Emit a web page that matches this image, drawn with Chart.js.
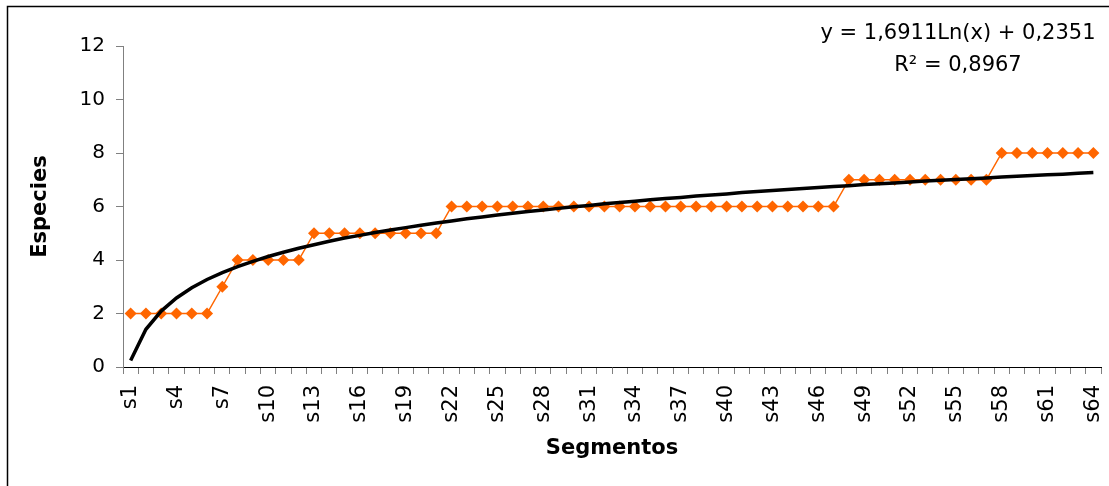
<!DOCTYPE html>
<html>
<head>
<meta charset="utf-8">
<script src="https://cdn.jsdelivr.net/npm/chart.js@4.4.0/dist/chart.umd.min.js"></script>
<style>
  html, body { margin: 0; padding: 0; background: #fff; overflow: hidden; }
  canvas { display: block; }
</style>
</head>
<body>
<canvas id="especiesChart" width="1109" height="486"></canvas>
<script>
// Data
const segmentos = [
  's1','s2','s3','s4','s5','s6','s7','s8','s9','s10','s11','s12','s13','s14','s15','s16',
  's17','s18','s19','s20','s21','s22','s23','s24','s25','s26','s27','s28','s29','s30','s31','s32',
  's33','s34','s35','s36','s37','s38','s39','s40','s41','s42','s43','s44','s45','s46','s47','s48',
  's49','s50','s51','s52','s53','s54','s55','s56','s57','s58','s59','s60','s61','s62','s63','s64'
];

const especies = [
  2, 2, 2, 2, 2, 2, 3, 4, 4, 4, 4, 4, 5, 5, 5, 5,
  5, 5, 5, 5, 5, 6, 6, 6, 6, 6, 6, 6, 6, 6, 6, 6,
  6, 6, 6, 6, 6, 6, 6, 6, 6, 6, 6, 6, 6, 6, 6, 7,
  7, 7, 7, 7, 7, 7, 7, 7, 7, 8, 8, 8, 8, 8, 8, 8
];

// logarithmic trend line, values read per segment
const tendencia = [
  0.24, 1.41, 2.09, 2.58, 2.96, 3.27, 3.53, 3.75, 3.95, 4.13, 4.29, 4.44, 4.57, 4.70, 4.82, 4.92,
  5.03, 5.12, 5.21, 5.30, 5.38, 5.46, 5.54, 5.61, 5.68, 5.75, 5.81, 5.87, 5.93, 5.99, 6.04, 6.10,
  6.15, 6.20, 6.25, 6.30, 6.34, 6.39, 6.43, 6.47, 6.52, 6.56, 6.60, 6.64, 6.67, 6.71, 6.75, 6.78,
  6.82, 6.85, 6.88, 6.92, 6.95, 6.98, 7.01, 7.04, 7.07, 7.10, 7.13, 7.16, 7.19, 7.21, 7.24, 7.27
];

const ecuacion = ['y = 1,6911Ln(x) + 0,2351', 'R² = 0,8967'];

const FONT = 'DejaVu Sans';

// white background + outer frame (left and top edges only are visible)
const marcoPlugin = {
  id: 'marco',
  beforeDraw(chart) {
    const ctx = chart.ctx;
    ctx.save();
    ctx.fillStyle = '#fff';
    ctx.fillRect(0, 0, chart.width, chart.height);
    ctx.strokeStyle = '#000';
    ctx.lineWidth = 1.5;
    ctx.beginPath();
    ctx.moveTo(7.5, chart.height);
    ctx.lineTo(7.5, 6.5);
    ctx.lineTo(chart.width, 6.5);
    ctx.stroke();
    ctx.restore();
  }
};

// draws the trend line label in the top right corner
const ecuacionPlugin = {
  id: 'ecuacion',
  afterDraw(chart) {
    const ctx = chart.ctx;
    ctx.save();
    ctx.fillStyle = '#000';
    ctx.font = '21px "' + FONT + '"';
    ctx.textAlign = 'center';
    ctx.textBaseline = 'middle';
    ctx.fillText(ecuacion[0], 958, 34);
    ctx.fillText(ecuacion[1], 958, 66);
    ctx.restore();
  }
};

const ctx = document.getElementById('especiesChart');
new Chart(ctx, {
  type: 'line',
  data: {
    labels: segmentos,
    datasets: [
      {
        label: 'Tendencia',
        data: tendencia,
        borderColor: '#000000',
        borderWidth: 3.5,
        pointRadius: 0,
        tension: 0,
        fill: false,
      },
      {
        label: 'Especies',
        data: especies,
        borderColor: '#FF6600',
        borderWidth: 1.5,
        pointStyle: 'rectRot',
        pointRadius: 6,
        pointBackgroundColor: '#FF6600',
        pointBorderColor: '#FF6600',
        pointBorderWidth: 0,
        tension: 0,
        fill: false,
      },
    ],
  },
  options: {
    responsive: false,
    animation: false,
    layout: {
      padding: { left: 28, top: 46, right: 8, bottom: 0 },
    },
    plugins: {
      legend: { display: false },
      tooltip: { enabled: false },
    },
    scales: {
      x: {
        offset: true,
        afterFit: (scale) => {
          scale.height = 119;
          scale.paddingLeft = 0;
          scale.paddingRight = 0;
        },
        grid: { offset: true, drawOnChartArea: false, tickLength: 7, color: '#808080' },
        border: { color: '#000000', width: 1 },
        ticks: {
          autoSkip: false,
          maxRotation: 90,
          minRotation: 90,
          padding: 11,
          color: '#000',
          font: { family: FONT, size: 21 },
          callback: (value, index) => (index % 3 === 0 ? segmentos[index] : ''),
        },
        title: {
          display: true,
          text: 'Segmentos',
          color: '#000',
          font: { family: FONT, size: 21, weight: 'bold' },
          padding: { top: 0, bottom: 25 },
        },
      },
      y: {
        min: 0,
        max: 12,
        afterFit: (scale) => {
          scale.width = 95;
          scale.paddingTop = 0;
          scale.paddingBottom = 0;
        },
        grid: { drawOnChartArea: false, tickLength: 7, color: '#808080' },
        border: { color: '#808080', width: 1 },
        ticks: {
          stepSize: 2,
          padding: 11,
          color: '#000',
          font: { family: FONT, size: 20 },
        },
        title: {
          display: true,
          text: 'Especies',
          color: '#000',
          font: { family: FONT, size: 21, weight: 'bold' },
          padding: { top: 0, bottom: 0 },
        },
      },
    },
  },
  plugins: [marcoPlugin, ecuacionPlugin],
});
</script>
</body>
</html>
